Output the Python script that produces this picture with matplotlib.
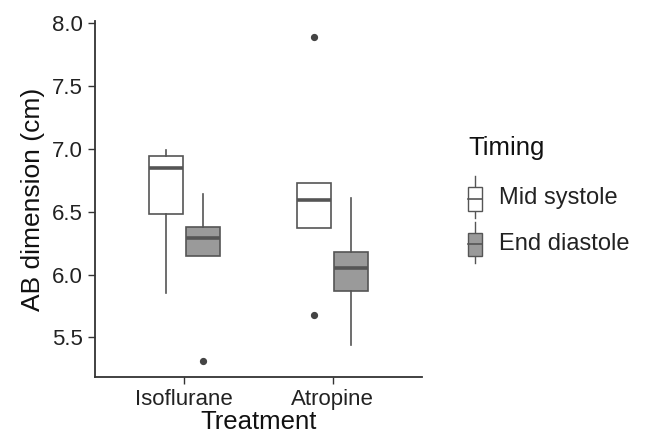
import matplotlib
matplotlib.use("Agg")
import matplotlib.pyplot as plt
from matplotlib.patches import Rectangle
from matplotlib.lines import Line2D
from matplotlib.legend_handler import HandlerBase

plt.rcParams['font.family'] = ['Liberation Sans', 'DejaVu Sans']

# ---- data ----
treatments = ["Isoflurane", "Atropine"]
timings = ["Mid systole", "End diastole"]
mid_med = [6.85, 6.59]
mid_q1 = [6.48, 6.37]
mid_q3 = [6.94, 6.73]
mid_lo = [5.85, 6.37]
mid_hi = [6.99, 6.73]
mid_out = [[], [7.89, 5.68]]
end_med = [6.29, 6.05]
end_q1 = [6.15, 5.87]
end_q3 = [6.38, 6.18]
end_lo = [6.15, 5.44]
end_hi = [6.64, 6.61]
end_out = [[5.31], []]
y_ticks = [5.5, 6.0, 6.5, 7.0, 7.5, 8.0]

EDGE = "#555555"
FILLS = ["white", "#9a9a9a"]
AX = "#333333"

fig = plt.figure(figsize=(6.48, 4.43), dpi=100)
ax = fig.add_axes([0.147, 0.149, 0.504, 0.804])

series = [
    (mid_med, mid_q1, mid_q3, mid_lo, mid_hi, mid_out),
    (end_med, end_q1, end_q3, end_lo, end_hi, end_out),
]
offsets = [-0.125, 0.125]
for s, (med, q1, q3, lo, hi, out) in enumerate(series):
    stats = []
    for i in range(len(treatments)):
        stats.append(dict(med=med[i], q1=q1[i], q3=q3[i], whislo=lo[i],
                          whishi=hi[i], fliers=out[i]))
    pos = [i + 1 + offsets[s] for i in range(len(treatments))]
    ax.bxp(stats, positions=pos, widths=0.229, showcaps=False, patch_artist=True,
           boxprops=dict(facecolor=FILLS[s], edgecolor=EDGE, linewidth=1.2),
           medianprops=dict(color=EDGE, linewidth=2.6, solid_capstyle='butt'),
           whiskerprops=dict(color=EDGE, linewidth=1.2),
           flierprops=dict(marker='o', markersize=4.2, markerfacecolor="#444444",
                           markeredgecolor="#444444"),
           manage_ticks=False)

ax.set_xlim(0.4, 2.6)
ax.set_ylim(5.184, 8.02)
ax.set_xticks([1, 2])
ax.set_xticklabels(treatments)
ax.set_yticks(y_ticks)
ax.set_yticklabels([f"{v:.1f}" for v in y_ticks])
for sp in ["top", "right"]:
    ax.spines[sp].set_visible(False)
for sp in ["left", "bottom"]:
    ax.spines[sp].set_color(AX)
    ax.spines[sp].set_linewidth(1.3)
ax.tick_params(axis='both', colors=AX, length=5, width=1.0, labelsize=16,
               labelcolor="#222222", pad=4)
ax.set_xlabel("Treatment", fontsize=18.5, color="#111111", labelpad=0)
ax.set_ylabel("AB dimension (cm)", fontsize=19, color="#111111", labelpad=5)


class BoxHandler(HandlerBase):
    def create_artists(self, legend, orig_handle, xdescent, ydescent, width, height,
                       fontsize, trans):
        x0, y0 = -xdescent, -ydescent
        bw = 10.0
        cx = x0 + width / 2
        b0 = y0 + height * 0.17
        b1 = y0 + height * 0.75
        rect = Rectangle((cx - bw / 2, b0), bw, b1 - b0, facecolor=orig_handle,
                         edgecolor=EDGE, linewidth=1.0, transform=trans)
        med = Line2D([cx - bw / 2, cx + bw / 2], [(b0 + b1) / 2] * 2, color=EDGE,
                     linewidth=1.2, transform=trans)
        w1 = Line2D([cx, cx], [y0, b0], color=EDGE, linewidth=1.0, transform=trans)
        w2 = Line2D([cx, cx], [b1, y0 + height], color=EDGE, linewidth=1.0,
                    transform=trans)
        return [w1, w2, rect, med]


leg = fig.legend(FILLS, timings, handler_map={str: BoxHandler()},
                 loc="upper left", bbox_to_anchor=(0.7222, 0.6016), frameon=False,
                 fontsize=17, handlelength=0.6, handleheight=2.3,
                 handletextpad=0.72, labelspacing=0.2, borderpad=0,
                 borderaxespad=0)
for t in leg.get_texts():
    t.set_color("#222222")
fig.text(0.7222, 0.6659, "Timing", fontsize=18.5, color="#111111",
         ha="left", va="center")

fig.savefig("out.png", dpi=100)
